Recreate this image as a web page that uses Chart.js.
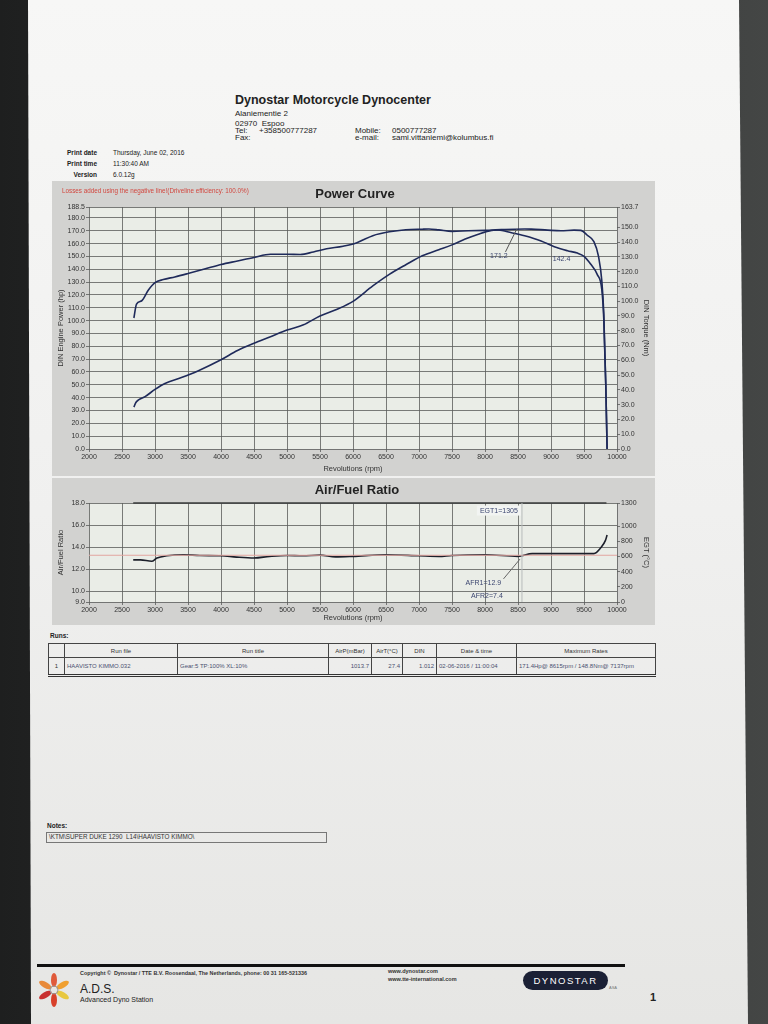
<!DOCTYPE html>
<html>
<head>
<meta charset="utf-8">
<script src="https://cdn.jsdelivr.net/npm/chart.js@4.4.1/dist/chart.umd.min.js"></script>
<style>
  body { margin:0; width:768px; height:1024px; position:relative; overflow:hidden;
         background:linear-gradient(90deg,#1e1f1f 0%,#2c2d2d 40%,#444645 100%);
         font-family:"Liberation Sans", Arial, sans-serif; color:#222; }
  #paper { position:absolute; left:0; top:0; width:768px; height:1024px;
           background:linear-gradient(180deg,#f7f7f6 0%,#f0f0ef 50%,#e6e6e4 100%);
           clip-path:polygon(28px 0, 739px 0, 748px 1024px, 31px 1024px); }
  .t { position:absolute; white-space:nowrap; line-height:1; }
  .box { position:absolute; }
  #runs { position:absolute; left:48px; top:643px; border-collapse:collapse; font-size:6px; color:#333;
          border:1px solid #333; border-bottom:3px double #333; }
  #runs th, #runs td { border:1px solid #444; padding:0 2px; font-weight:normal; }
  #runs th { height:13px; text-align:center; }
  #runs td { height:16px; color:#4a5070; }
  #runs td.r { text-align:right; }
  #runs td.c { text-align:center; }
</style>
</head>
<body>
<div id="paper"></div>

<!-- header -->
<div class="t" style="left:235px;top:94px;font-size:12.5px;font-weight:bold;">Dynostar Motorcycle Dynocenter</div>
<div class="t" style="left:235px;top:110px;font-size:8px;">Alaniementie 2</div>
<div class="t" style="left:235px;top:120px;font-size:8px;">02970&nbsp; Espoo</div>
<div class="t" style="left:235px;top:127px;font-size:8px;">Tel:</div>
<div class="t" style="left:259px;top:127px;font-size:8px;">+358500777287</div>
<div class="t" style="left:235px;top:134px;font-size:8px;">Fax:</div>
<div class="t" style="left:355px;top:127px;font-size:8px;">Mobile:</div>
<div class="t" style="left:392px;top:127px;font-size:8px;">0500777287</div>
<div class="t" style="left:355px;top:134px;font-size:8px;">e-mail:</div>
<div class="t" style="left:392px;top:134px;font-size:8px;">sami.vittaniemi@kolumbus.fi</div>

<div class="t" style="left:40px;width:57px;text-align:right;top:150px;font-size:6.5px;font-weight:bold;">Print date</div>
<div class="t" style="left:40px;width:57px;text-align:right;top:161px;font-size:6.5px;font-weight:bold;">Print time</div>
<div class="t" style="left:40px;width:57px;text-align:right;top:172px;font-size:6.5px;font-weight:bold;">Version</div>
<div class="t" style="left:113px;top:150px;font-size:6.5px;">Thursday, June 02, 2016</div>
<div class="t" style="left:113px;top:161px;font-size:6.5px;">11:30:40 AM</div>
<div class="t" style="left:113px;top:172px;font-size:6.5px;">6.0.12g</div>

<!-- charts -->
<div class="box" style="left:52px;top:181px;width:603px;height:295px;"><canvas id="powerChart"></canvas></div>
<div class="t" style="left:62px;top:188px;font-size:6.3px;color:#d2473f;">Losses added using the negative line!(Driveline efficiency: 100.0%)</div>
<div class="t" style="left:255px;width:200px;text-align:center;top:187px;font-size:13px;font-weight:bold;">Power Curve</div>

<div class="box" style="left:52px;top:478px;width:603px;height:147px;"><canvas id="afrChart"></canvas></div>
<div class="t" style="left:257px;width:200px;text-align:center;top:483px;font-size:13px;font-weight:bold;">Air/Fuel Ratio</div>

<!-- runs table -->
<div class="t" style="left:50px;top:633px;font-size:6.5px;font-weight:bold;">Runs:</div>
<table id="runs">
  <tr><th style="width:11px"></th><th style="width:108px">Run file</th><th style="width:146px">Run title</th><th style="width:38px">AirP(mBar)</th><th style="width:26px">AirT(°C)</th><th style="width:29px">DIN</th><th style="width:75px">Date &amp; time</th><th style="width:134px">Maximum Rates</th></tr>
  <tr><td class="c" style="color:#333">1</td><td>HAAVISTO KIMMO.032</td><td>Gear:5 TP:100% XL:10%</td><td class="r">1013.7</td><td class="r">27.4</td><td class="r">1.012</td><td>02-06-2016 / 11:00:04</td><td>171.4Hp@ 8615rpm / 148.8Nm@ 7137rpm</td></tr>
</table>

<!-- notes -->
<div class="t" style="left:47px;top:823px;font-size:6.5px;font-weight:bold;">Notes:</div>
<div class="box" style="left:46px;top:832px;width:279px;height:9px;border:1px solid #777;"></div>
<div class="t" style="left:49px;top:834px;font-size:6.3px;color:#333;">\KTM\SUPER DUKE 1290&nbsp; L14\HAAVISTO KIMMO\</div>

<!-- footer -->
<div class="box" style="left:37px;top:964px;width:588px;height:3px;background:#111;"></div>
<div class="t" style="left:80px;top:971px;font-size:5.4px;font-weight:bold;color:#333;">Copyright ©&nbsp; Dynostar / TTE B.V. Roosendaal, The Netherlands, phone: 00 31 165-521336</div>
<svg class="box" style="left:37px;top:973px;" width="34" height="34" viewBox="0 0 34 34">
  <g transform="translate(17 17)">
    <ellipse rx="3" ry="7" transform="rotate(0) translate(0 -10)" fill="#e05a3a"/>
    <ellipse rx="3" ry="7" transform="rotate(60) translate(0 -10)" fill="#f0a030"/>
    <ellipse rx="3" ry="7" transform="rotate(120) translate(0 -10)" fill="#e8c840"/>
    <ellipse rx="3" ry="7" transform="rotate(180) translate(0 -10)" fill="#d8402a"/>
    <ellipse rx="3" ry="7" transform="rotate(240) translate(0 -10)" fill="#c83030"/>
    <ellipse rx="3" ry="7" transform="rotate(300) translate(0 -10)" fill="#e88a3a"/>
    <circle r="4" fill="none" stroke="#999" stroke-width="1"/>
  </g>
</svg>
<div class="t" style="left:80px;top:983px;font-size:12px;color:#222;">A.D.S.</div>
<div class="t" style="left:80px;top:996px;font-size:7px;color:#222;">Advanced Dyno Station</div>
<div class="t" style="left:388px;top:969px;font-size:5.5px;font-weight:bold;color:#333;">www.dynostar.com</div>
<div class="t" style="left:388px;top:977px;font-size:5.5px;font-weight:bold;color:#333;">www.tte-international.com</div>
<div class="box" style="left:523px;top:971px;width:85px;height:19px;border-radius:10px;background:#1b2035;"></div>
<div class="t" style="left:523px;width:85px;text-align:center;top:976px;font-size:9.5px;letter-spacing:1.5px;color:#fff;">DYNOSTAR</div>
<div class="t" style="left:609px;top:986px;font-size:4px;color:#777;">ASA</div>
<div class="t" style="left:650px;top:992px;font-size:11px;font-weight:bold;">1</div>

<script>
// power curve
const powerRpm = [2680, 2710, 2750, 2850, 3000, 3150, 3400, 3650, 4000, 4250, 4500, 4750, 5000, 5250, 5500, 5750, 6000, 6300, 6550, 6800, 7050, 7300, 7500, 7700, 7900, 8100, 8300, 8600, 8700, 8950, 9150, 9350, 9450, 9550, 9650, 9720, 9770, 9800, 9830, 9850];
const powerHp = [32.6, 36.2, 38.2, 40.8, 46.4, 51.0, 55.6, 60.8, 69.5, 76.7, 82.3, 87.4, 92.6, 96.7, 103.6, 108.7, 115.0, 127.0, 136.0, 143.5, 150.5, 155.2, 159.0, 163.5, 167.3, 170.3, 171.0, 171.4, 171.3, 170.5, 170.0, 170.5, 170.3, 166.5, 161.5, 150.0, 131.0, 105.0, 50.0, 0.0];

const torqueRpm = [2680, 2720, 2800, 2900, 3000, 3125, 3300, 3500, 3750, 4000, 4250, 4500, 4750, 5000, 5200, 5400, 5600, 5850, 6050, 6300, 6550, 6800, 7050, 7150, 7300, 7500, 7750, 8000, 8200, 8400, 8600, 8850, 9050, 9250, 9400, 9500, 9600, 9700, 9770, 9800, 9830, 9850];
const torqueNm = [88.6, 98.0, 100.3, 107.5, 112.5, 114.6, 116.4, 118.7, 121.7, 124.8, 127.2, 129.6, 131.7, 131.7, 131.6, 133.3, 135.4, 137.2, 139.4, 144.3, 146.9, 148.3, 148.7, 148.8, 148.2, 147.2, 147.6, 147.9, 148.1, 146.3, 144.2, 140.7, 136.8, 134.1, 132.5, 130.3, 125.1, 118.1, 107.7, 87.7, 43.4, 0.0];

// air/fuel ratio and EGT
const afrRpm = [2670, 2780, 2950, 3030, 3180, 3430, 3680, 4000, 4235, 4500, 4735, 5000, 5235, 5500, 5735, 6000, 6500, 7000, 7300, 7500, 8000, 8500, 8715, 9000, 9500, 9650, 9750, 9825, 9850];
const afr1 = [12.83, 12.83, 12.7, 13.0, 13.2, 13.3, 13.23, 13.2, 13.08, 13.0, 13.14, 13.23, 13.2, 13.26, 13.1, 13.15, 13.3, 13.2, 13.14, 13.23, 13.3, 13.15, 13.4, 13.4, 13.4, 13.4, 13.9, 14.6, 15.1];
const refRpm = [2000, 10000];
const refAfr = [13.25, 13.25];
const egtRpm = [2670, 9840];
const egt1 = [1305, 1305];

// tick labels
const hpTicks = [0, 10, 20, 30, 40, 50, 60, 70, 80, 90, 100, 110, 120, 130, 140, 150, 160, 170, 180, 188.5];
const nmTicks = [0, 10, 20, 30, 40, 50, 60, 70, 80, 90, 100, 110, 120, 130, 140, 150, 163.7];
const afrTicks = [9, 10, 12, 14, 16, 18];
const egtTicks = [0, 200, 400, 600, 800, 1000, 1300];

const FONT = '"Liberation Sans", Arial, sans-serif';
const pts = (xs, ys) => xs.map((x, i) => ({ x: x, y: ys[i] }));
const fixTicks = (list) => (scale) => { scale.ticks = list.map((v) => ({ value: v })); };

const paintBg = {
  id: "paintBg",
  beforeDraw(chart) {
    const { ctx, chartArea: a, width, height } = chart;
    ctx.save();
    ctx.fillStyle = "#d2d2d0";
    ctx.fillRect(0, 0, width, height);
    ctx.fillStyle = "#eaede7";
    ctx.fillRect(a.left, a.top, a.right - a.left, a.bottom - a.top);
    ctx.restore();
  },
};

// small text labels and leader lines that sit on the plot
const notes = {
  id: "notes",
  afterDatasetsDraw(chart, args, opts) {
    const { ctx } = chart;
    const sx = chart.scales.x;
    ctx.save();
    (opts.lines || []).forEach((l) => {
      const sy = chart.scales[l.axis];
      ctx.strokeStyle = l.color;
      ctx.lineWidth = 1;
      ctx.beginPath();
      ctx.moveTo(sx.getPixelForValue(l.x1), l.y1 == null ? chart.chartArea.top : sy.getPixelForValue(l.y1));
      ctx.lineTo(sx.getPixelForValue(l.x2), l.y2 == null ? chart.chartArea.bottom : sy.getPixelForValue(l.y2));
      ctx.stroke();
    });
    ctx.font = "7px " + FONT;
    ctx.textAlign = "center";
    ctx.textBaseline = "middle";
    (opts.labels || []).forEach((l) => {
      const px = sx.getPixelForValue(l.x);
      const py = chart.scales[l.axis].getPixelForValue(l.y);
      if (l.box) {
        const w = ctx.measureText(l.text).width;
        ctx.fillStyle = l.box;
        ctx.fillRect(px - w / 2 - 3, py - 5, w + 6, 10);
      }
      ctx.fillStyle = l.color || "#3c4670";
      ctx.fillText(l.text, px, py);
    });
    ctx.restore();
  },
};

const gridStyle = { color: "#5a5c5a", lineWidth: 0.8, tickLength: 3 };
const tickFont = { family: FONT, size: 7 };
const titleFont = { family: FONT, size: 7.5 };

const xAxis = (h) => ({
  type: "linear",
  min: 2000,
  max: 10000,
  grid: gridStyle,
  border: { display: false },
  afterFit: (s) => { s.height = h; },
  ticks: { stepSize: 500, maxRotation: 0, autoSkip: false, padding: 1, color: "#333", font: tickFont, callback: (v) => String(v) },
  title: { display: true, text: "Revolutions (rpm)", color: "#333", font: titleFont, padding: { top: 0, bottom: 3 } },
});

new Chart(document.getElementById("powerChart"), {
  type: "line",
  data: {
    datasets: [
      {
        label: "Power",
        data: pts(powerRpm, powerHp),
        yAxisID: "y",
        borderColor: "#1f2a5a",
        borderWidth: 1.6,
        pointRadius: 0,
        cubicInterpolationMode: "monotone",
      },
      {
        label: "Torque",
        data: pts(torqueRpm, torqueNm),
        yAxisID: "y2",
        borderColor: "#1f2a5a",
        borderWidth: 1.6,
        pointRadius: 0,
        cubicInterpolationMode: "monotone",
      },
    ],
  },
  options: {
    responsive: true,
    maintainAspectRatio: false,
    animation: false,
    layout: { padding: { top: 26, left: 0, right: 0, bottom: 0 } },
    plugins: {
      legend: { display: false },
      tooltip: { enabled: false },
      notes: {
        lines: [{ axis: "y", x1: 8310, y1: 153.5, x2: 8480, y2: 171.2, color: "#555" }],
        labels: [
          { axis: "y", x: 8210, y: 150, text: "171.2" },
          { axis: "y", x: 9160, y: 148, text: "142.4" },
        ],
      },
    },
    scales: {
      x: xAxis(27),
      y: {
        position: "left",
        min: 0,
        max: 188.5,
        grid: gridStyle,
        border: { display: false },
        afterBuildTicks: fixTicks(hpTicks),
        afterFit: (s) => { s.width = 37; },
        ticks: { padding: 1, color: "#333", font: tickFont, callback: (v) => v.toFixed(1) },
        title: { display: true, text: "DIN Engine Power (hp)", color: "#333", font: titleFont, padding: { top: 4, bottom: 0 } },
      },
      y2: {
        position: "right",
        min: 0,
        max: 163.7,
        grid: { color: "#5a5c5a", lineWidth: 0.8, tickLength: 3, drawOnChartArea: false },
        border: { display: false },
        afterBuildTicks: fixTicks(nmTicks),
        afterFit: (s) => { s.width = 38; },
        ticks: { padding: 1, color: "#333", font: tickFont, callback: (v) => v.toFixed(1) },
        title: { display: true, text: "DIN Torque (Nm)", color: "#333", font: titleFont, padding: { top: 4, bottom: 0 } },
      },
    },
  },
  plugins: [paintBg, notes],
});

new Chart(document.getElementById("afrChart"), {
  type: "line",
  data: {
    datasets: [
      {
        label: "AFR target",
        data: pts(refRpm, refAfr),
        yAxisID: "y",
        borderColor: "#e2a5a0",
        borderWidth: 1,
        pointRadius: 0,
      },
      {
        label: "EGT1",
        data: pts(egtRpm, egt1),
        yAxisID: "y2",
        borderColor: "#3a3c3c",
        borderWidth: 1.5,
        pointRadius: 0,
        clip: false,
      },
      {
        label: "AFR1",
        data: pts(afrRpm, afr1),
        yAxisID: "y",
        borderColor: "#1c1f2a",
        borderWidth: 1.6,
        pointRadius: 0,
        cubicInterpolationMode: "monotone",
      },
    ],
  },
  options: {
    responsive: true,
    maintainAspectRatio: false,
    animation: false,
    layout: { padding: { top: 25, left: 0, right: 0, bottom: 0 } },
    plugins: {
      legend: { display: false },
      tooltip: { enabled: false },
      notes: {
        lines: [
          { axis: "y", x1: 8560, y1: null, x2: 8560, y2: null, color: "#b8bcbc" },
          { axis: "y", x1: 8280, y1: 11.1, x2: 8530, y2: 12.9, color: "#666" },
        ],
        labels: [
          { axis: "y2", x: 8210, y: 1205, text: "EGT1=1305", box: "#f2f4f2" },
          { axis: "y", x: 7975, y: 10.7, text: "AFR1=12.9" },
          { axis: "y", x: 8030, y: 9.5, text: "AFR2=7.4" },
        ],
      },
    },
    scales: {
      x: xAxis(23),
      y: {
        position: "left",
        min: 9,
        max: 18,
        grid: gridStyle,
        border: { display: false },
        afterBuildTicks: fixTicks(afrTicks),
        afterFit: (s) => { s.width = 37; },
        ticks: { padding: 1, color: "#333", font: tickFont, callback: (v) => v.toFixed(1) },
        title: { display: true, text: "Air/Fuel Ratio", color: "#333", font: titleFont, padding: { top: 4, bottom: 0 } },
      },
      y2: {
        position: "right",
        min: 0,
        max: 1305,
        grid: { color: "#5a5c5a", lineWidth: 0.8, tickLength: 3, drawOnChartArea: false },
        border: { display: false },
        afterBuildTicks: fixTicks(egtTicks),
        afterFit: (s) => { s.width = 38; },
        ticks: { padding: 1, color: "#333", font: tickFont, callback: (v) => String(v) },
        title: { display: true, text: "EGT (°C)", color: "#333", font: titleFont, padding: { top: 4, bottom: 0 } },
      },
    },
  },
  plugins: [paintBg, notes],
});
</script>
</body>
</html>
